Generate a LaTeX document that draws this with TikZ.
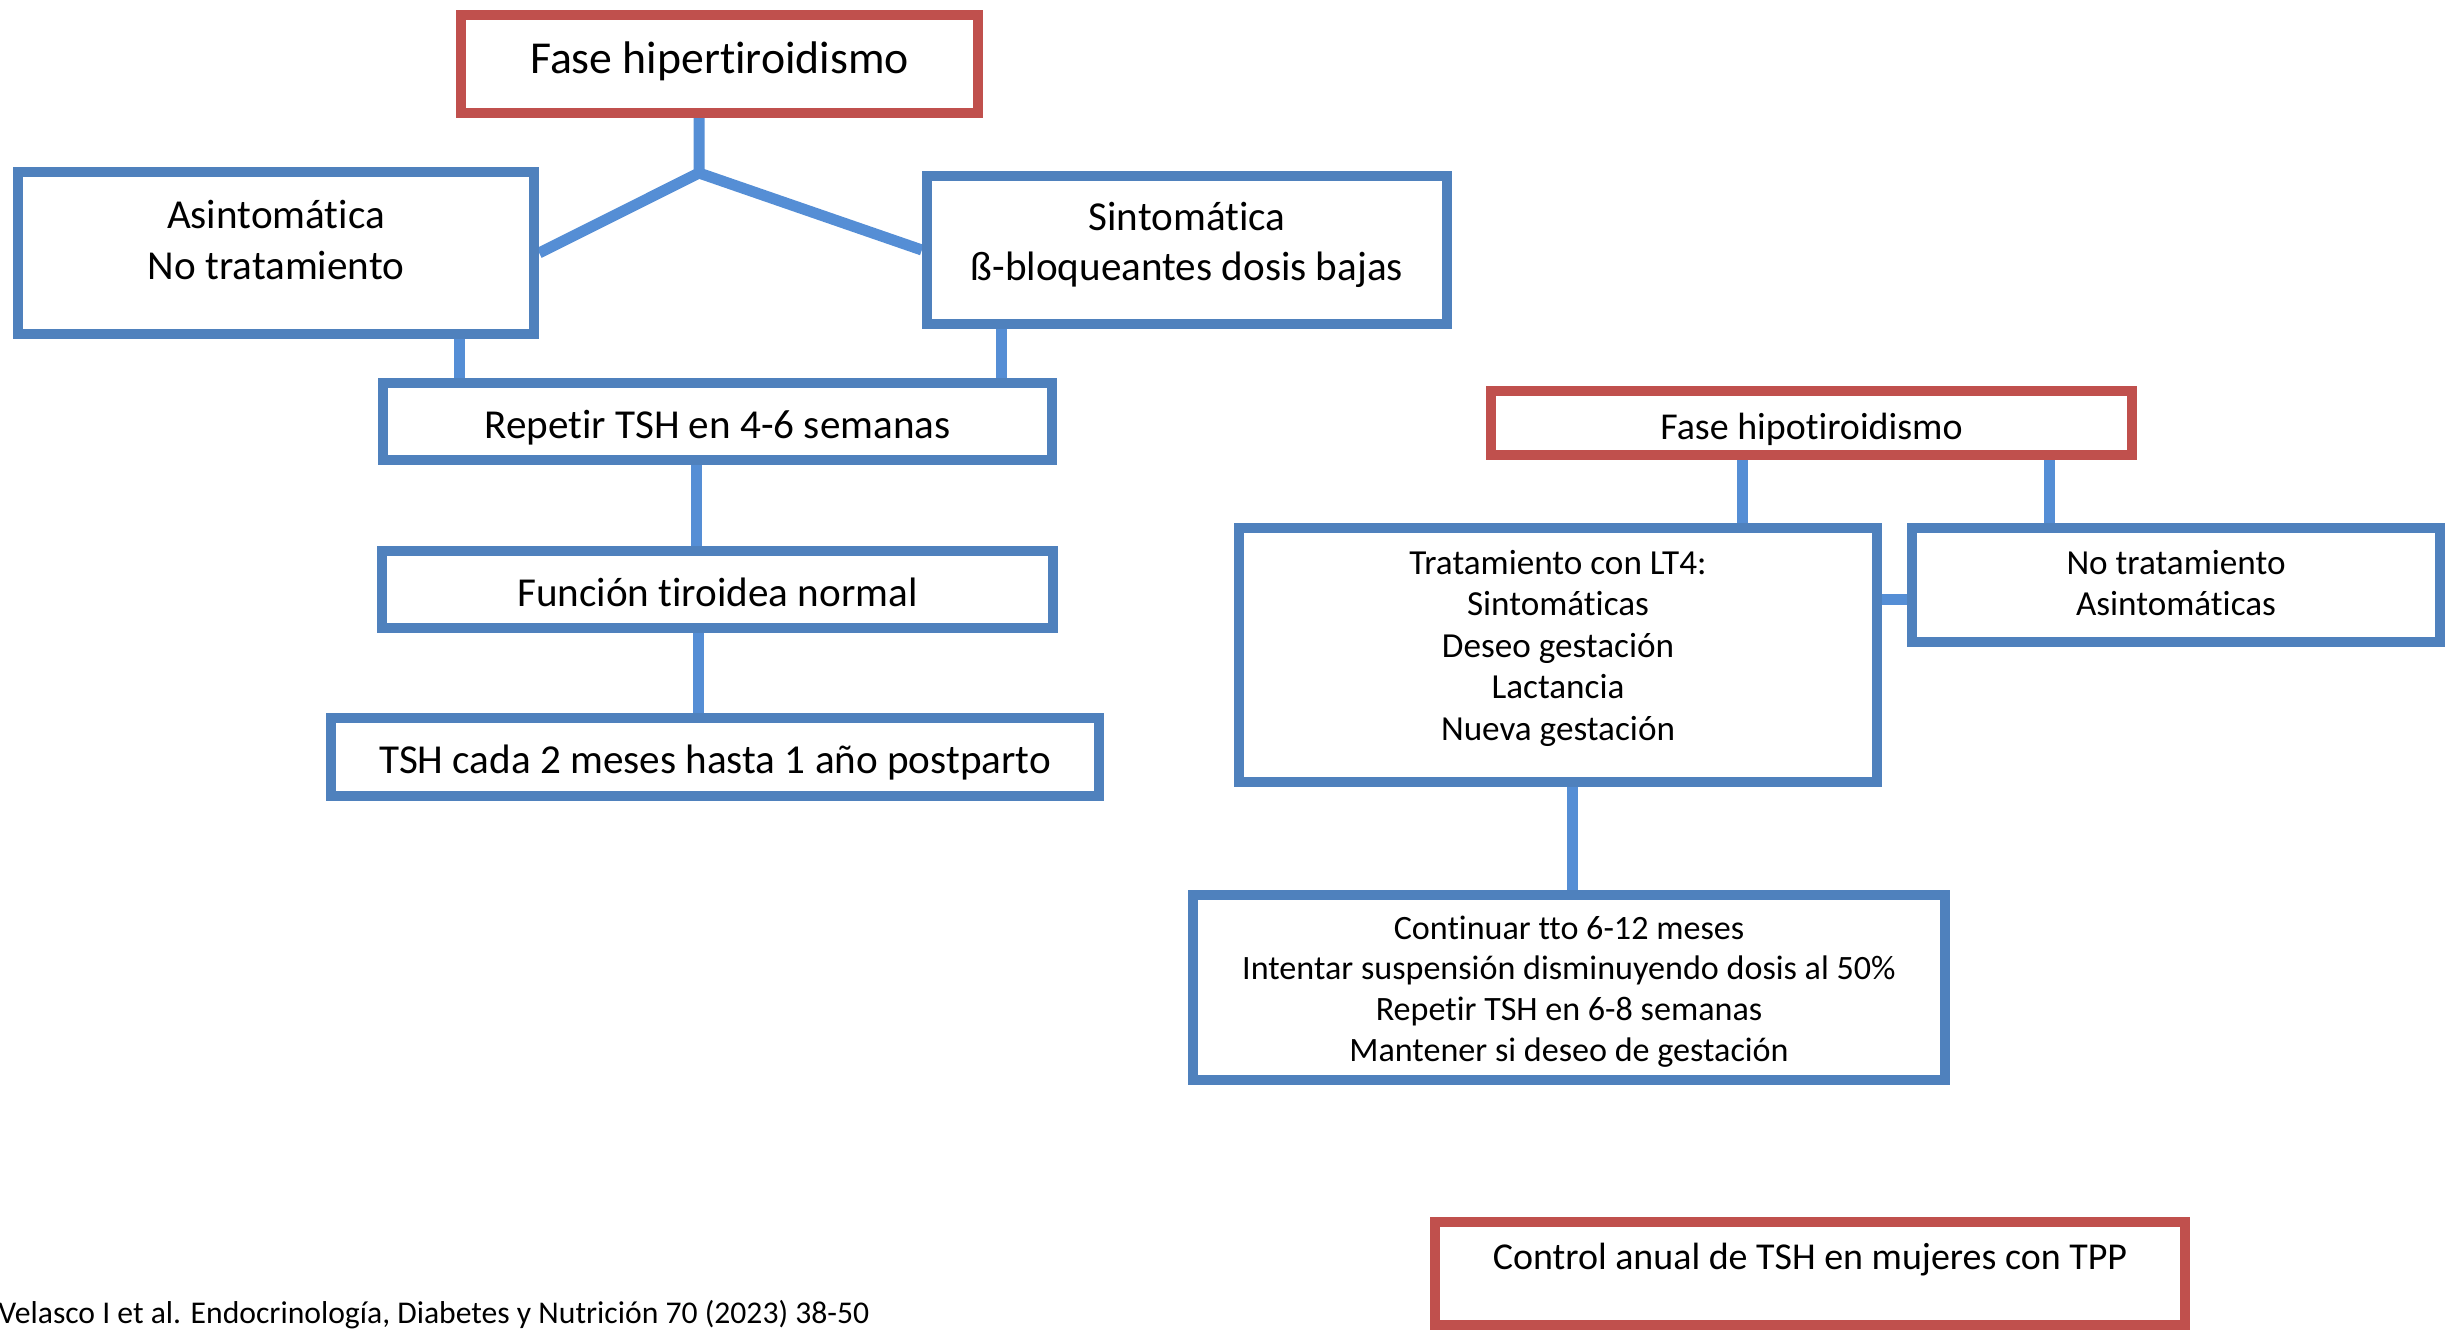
\documentclass[tikz,border=0pt]{standalone}
\usepackage{fontspec}
\setmainfont[Ligatures=NoCommon]{Carlito}
\usetikzlibrary{backgrounds}
\definecolor{boxBlue}{RGB}{79, 129, 189}
\definecolor{boxRed}{RGB}{192, 80, 77}
\definecolor{linkBlue}{RGB}{85, 142, 213}

\begin{document}
\begin{tikzpicture}[x=0.01cm, y=-0.01cm,
    redbox/.style={draw=boxRed, line width=1mm, fill=white, inner sep=0pt},
    bluebox/.style={draw=boxBlue, line width=1mm, fill=white, inner sep=0pt},
    link/.style={draw=linkBlue, line width=1.1mm},
    big/.style={font=\fontsize{13}{15.6}\selectfont, align=center},
    mid/.style={font=\fontsize{11.7}{14.4}\selectfont, align=center},
    small/.style={font=\fontsize{10}{11.8}\selectfont, align=center},
    tiny/.style={font=\fontsize{9.7}{11.6}\selectfont, align=center},
    midsmall/.style={font=\fontsize{10.8}{13}\selectfont, align=center}]
        \useasboundingbox (0,0) rectangle (2447,1330);
        % hipertiroidismo
        \node[redbox, minimum width=5.17cm, minimum height=0.98cm] (hiper) at (719.5,64) {};
        \node[bluebox, minimum width=5.16cm, minimum height=1.62cm] (asint) at (276,253) {};
        \node[bluebox, minimum width=5.20cm, minimum height=1.48cm] (sint) at (1187,250) {};
        \node[bluebox, minimum width=6.69cm, minimum height=0.77cm] (repetir) at (717.5,421.5) {};
        \node[bluebox, minimum width=6.71cm, minimum height=0.77cm] (funcion) at (717.5,589.5) {};
        \node[bluebox, minimum width=7.68cm, minimum height=0.78cm] (tshcada) at (715,757) {};
        \node[big] (hiper-t) at ([yshift=0.03cm]hiper) {Fase hipertiroidismo};
        \node[mid] (asint-t) at ([yshift=0.13cm]asint) {Asintomática\\No tratamiento};
        \node[mid] (sint-t) at ([yshift=0.05cm]sint) {Sintomática\\ß-bloqueantes dosis bajas};
        \node[mid] (repetir-t) at ([yshift=-0.06cm]repetir) {Repetir TSH en 4-6 semanas};
        \node[mid] (funcion-t) at ([yshift=-0.03cm]funcion) {Función tiroidea normal};
        \node[mid] (tshcada-t) at ([yshift=-0.06cm]tshcada) {TSH cada 2 meses hasta 1 año postparto};
        % hipotiroidismo
        \node[redbox, minimum width=6.41cm, minimum height=0.64cm] (hipo) at (1811.5,423) {};
        \node[bluebox, minimum width=6.38cm, minimum height=2.54cm] (trat) at (1558,655) {};
        \node[bluebox, minimum width=5.28cm, minimum height=1.14cm] (notrat) at (2176,585) {};
        \node[bluebox, minimum width=7.52cm, minimum height=1.85cm] (cont) at (1569,987.5) {};
        \node[redbox, minimum width=7.50cm, minimum height=1.03cm] (control) at (1810,1273.5) {};
        \node[midsmall] (hipo-t) at ([yshift=-0.06cm]hipo) {Fase hipotiroidismo};
        \node[small] (trat-t) at ([yshift=0.07cm]trat) {Tratamiento con LT4:\\Sintomáticas\\Deseo gestación\\Lactancia\\Nueva gestación};
        \node[small] (notrat-t) at ([yshift=0.02cm]notrat) {No tratamiento\\Asintomáticas};
        \node[tiny] (cont-t) at ([yshift=-0.04cm]cont) {Continuar tto 6-12 meses\\Intentar suspensión disminuyendo dosis al 50\%\\Repetir TSH en 6-8 semanas\\Mantener si deseo de gestación};
        \node[midsmall] (control-t) at ([yshift=0.14cm]control) {Control anual de TSH en mujeres con TPP};
        \node[font=\fontsize{9}{10.5}\selectfont, anchor=base east, inner sep=0pt] (cita) at (870,1323) {Velasco I et al. Endocrinología, Diabetes y Nutrición 70 (2023) 38-50};

        \begin{scope}[on background layer]
        \coordinate (jn) at (699,173);
        \draw[link] (hiper.south -| jn) -- (jn) -- (asint.east);
        \draw[link] (jn) -- (sint.west);
        \draw[link] (459,0 |- asint.south) -- (459,0 |- repetir.north);
        \draw[link] (1001,0 |- sint.south) -- (1001,0 |- repetir.north);
        \draw[link] (696,0 |- repetir.south) -- (696,0 |- funcion.north);
        \draw[link] (698,0 |- funcion.south) -- (698,0 |- tshcada.north);
        \draw[link] (1742,0 |- hipo.south) -- (1742,0 |- trat.north);
        \draw[link] (2049,0 |- hipo.south) -- (2049,0 |- notrat.north);
        \draw[link] (trat.east |- 0,599) -- (notrat.west |- 0,599);
        \draw[link] (1572,0 |- trat.south) -- (1572,0 |- cont.north);
        \end{scope}
\end{tikzpicture}
\end{document}
